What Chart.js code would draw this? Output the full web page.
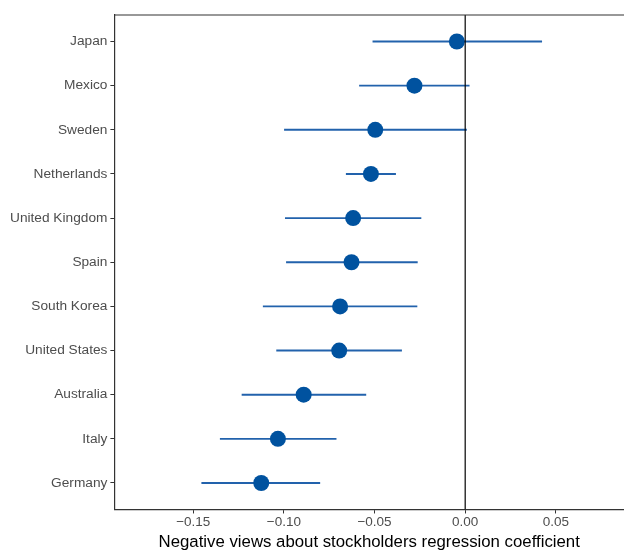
<!DOCTYPE html>
<html>
<head>
<meta charset="utf-8">
<script src="https://cdn.jsdelivr.net/npm/chart.js@4"></script>
<style>
  html, body { margin: 0; padding: 0; background: #fff; }
  #wrap { width: 624px; height: 550px; }
</style>
</head>
<body>
<div id="wrap"><canvas id="coefChart"></canvas></div>
<script>
// Countries, top to bottom
const countries = ['Japan', 'Mexico', 'Sweden', 'Netherlands', 'United Kingdom', 'Spain',
  'South Korea', 'United States', 'Australia', 'Italy', 'Germany'];
// Point estimates and interval ends
const estimates = [-0.0046, -0.0280, -0.0496, -0.0520, -0.0618, -0.0627, -0.0690, -0.0695, -0.0891, -0.1033, -0.1125];
const lower = [-0.0511, -0.0585, -0.0999, -0.0658, -0.0994, -0.0988, -0.1116, -0.1042, -0.1233, -0.1353, -0.1455];
const upper = [0.0424, 0.0024, 0.0009, -0.0382, -0.0242, -0.0262, -0.0264, -0.0349, -0.0546, -0.0710, -0.0800];
// x axis ticks
const xTickVals = [-0.15, -0.10, -0.05, 0.00, 0.05];
const xTickLabels = ['\u22120.15', '\u22120.10', '\u22120.05', '0.00', '0.05'];

const pointColor = '#00529f';
const barColor = '#2262ac';
const axisColor = '#333333';
const font = 'Liberation Sans, Arial, sans-serif';

const datasets = [];

// zero reference line
datasets.push({
  type: 'line',
  data: [{ x: 0, y: 0.4 }, { x: 0, y: countries.length + 0.6 }],
  borderColor: '#000',
  borderWidth: 1.2,
  pointRadius: 0,
  order: -1
});

// interval lines
countries.forEach((c, i) => {
  datasets.push({
    type: 'line',
    data: [{ x: lower[i], y: i + 1 }, { x: upper[i], y: i + 1 }],
    borderColor: barColor,
    borderWidth: 1.9,
    pointRadius: 0,
    order: 2
  });
});

// estimates
datasets.push({
  type: 'scatter',
  data: estimates.map((v, i) => ({ x: v, y: i + 1 })),
  backgroundColor: pointColor,
  borderWidth: 0,
  pointRadius: 8,
  order: 1
});

// top border of the panel
const topBorder = {
  id: 'topBorder',
  afterDraw(chart) {
    const { ctx, chartArea } = chart;
    ctx.save();
    ctx.strokeStyle = axisColor;
    ctx.lineWidth = 1.2;
    ctx.beginPath();
    ctx.moveTo(chartArea.left, chartArea.top);
    ctx.lineTo(chartArea.right, chartArea.top);
    ctx.stroke();
    ctx.restore();
  }
};

new Chart(document.getElementById('coefChart'), {
  type: 'scatter',
  data: { datasets },
  plugins: [topBorder],
  options: {
    responsive: true,
    maintainAspectRatio: false,
    animation: false,
    layout: { autoPadding: false, padding: { top: 15, left: 7, right: 0, bottom: -2 } },
    plugins: {
      legend: { display: false },
      tooltip: { enabled: false }
    },
    scales: {
      x: {
        type: 'linear',
        min: -0.1935,
        max: 0.0876,
        afterBuildTicks: s => { s.ticks = xTickVals.map(v => ({ value: v })); },
        // panel runs to the right edge, no room kept for tick labels
        afterFit: s => { s.paddingLeft = 0; s.paddingRight = 0; },
        ticks: {
          color: '#4d4d4d',
          font: { family: font, size: 13.5, lineHeight: 1.2 },
          padding: 1,
          maxRotation: 0,
          callback: (v) => xTickLabels[xTickVals.findIndex(t => Math.abs(t - v) < 1e-9)]
        },
        grid: { drawOnChartArea: false, tickLength: 4, tickColor: axisColor, tickWidth: 1 },
        border: { display: true, color: axisColor, width: 1.2 },
        title: {
          display: true,
          text: 'Negative views about stockholders regression coefficient',
          color: '#000',
          font: { family: font, size: 16.8, lineHeight: 1.15 },
          padding: { top: 1, bottom: 0 }
        }
      },
      y: {
        type: 'linear',
        reverse: true,
        min: 0.4,
        max: countries.length + 0.6,
        afterBuildTicks: s => { s.ticks = countries.map((c, i) => ({ value: i + 1 })); },
        ticks: {
          color: '#4d4d4d',
          font: { family: font, size: 13.7 },
          padding: 3,
          callback: (v) => countries[Math.round(v) - 1]
        },
        grid: { drawOnChartArea: false, tickLength: 4, tickColor: axisColor, tickWidth: 1 },
        border: { display: true, color: axisColor, width: 1.2 }
      }
    }
  }
});
</script>
</body>
</html>
